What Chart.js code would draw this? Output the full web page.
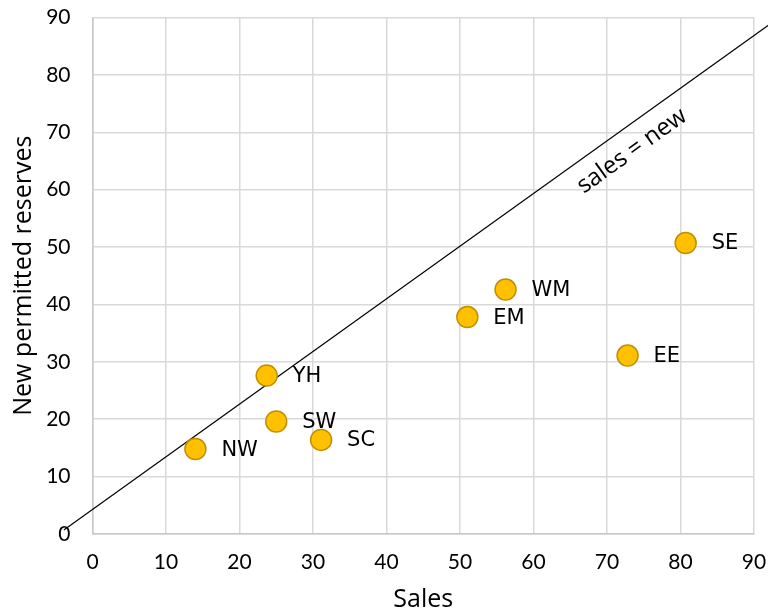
<!DOCTYPE html>
<html>
<head>
<meta charset="utf-8">
<script src="https://cdn.jsdelivr.net/npm/chart.js@4"></script>
<style>
html,body{margin:0;padding:0;background:#fff;}
#wrap{width:768px;height:612px;position:relative;}
</style>
</head>
<body>
<div id="wrap"><canvas id="c" width="768" height="612"></canvas></div>
<script>
const regions = ["NW","YH","SW","SC","EM","WM","EE","SE"];
const sales = [14.0, 23.7, 25.0, 31.1, 51.0, 56.2, 72.8, 80.7];
const newReserves = [14.8, 27.6, 19.6, 16.4, 37.8, 42.6, 31.1, 50.7];
const refLineX = [-3.9, 92];
const refLineY = [0.7, 88.7];
const xTicks = [0,10,20,30,40,50,60,70,80,90];
const yTicks = [0,10,20,30,40,50,60,70,80,90];

const tickFont = {family:"Lato", size:21, lineHeight:1};
const textFont = "Open Sans";

const labelPlugin = {
  id:'labels',
  afterDatasetsDraw(chart){
    const ctx = chart.ctx;
    const meta = chart.getDatasetMeta(1);
    ctx.save();
    ctx.fillStyle = '#000';
    ctx.font = '21px "DejaVu Sans"';
    ctx.textAlign = 'left';
    ctx.textBaseline = 'middle';
    meta.data.forEach((pt, i) => {
      ctx.fillText(regions[i], pt.x + 26, pt.y + 1);
    });
    const xs = chart.scales.x, ys = chart.scales.y;
    const p0x = xs.getPixelForValue(refLineX[0]), p0y = ys.getPixelForValue(refLineY[0]);
    const p1x = xs.getPixelForValue(refLineX[1]), p1y = ys.getPixelForValue(refLineY[1]);
    const ang = Math.atan2(p1y - p0y, p1x - p0x);
    ctx.translate(632, 151);
    ctx.rotate(ang);
    ctx.textAlign = 'center';
    ctx.font = '24px "' + textFont + '"';
    ctx.fillText('sales = new', 0, 0);
    ctx.restore();
  }
};

new Chart(document.getElementById('c'), {
  type: 'scatter',
  data: {
    datasets: [
      {
        type:'line',
        data: refLineX.map((x,i)=>({x:x, y:refLineY[i]})),
        borderColor:'#000',
        borderWidth:1.2,
        pointRadius:0,
        fill:false,
        clip:false,
        order:2
      },
      {
        data: sales.map((x,i)=>({x:x, y:newReserves[i]})),
        backgroundColor:'#FFC000',
        borderColor:'#C09000',
        borderWidth:1.5,
        pointRadius:10.5,
        pointHoverRadius:10.5,
        order:1
      }
    ]
  },
  options: {
    responsive:false,
    animation:false,
    events:[],
    layout:{padding:{top:17.5, right:14, left:0, bottom:0}},
    plugins:{legend:{display:false}, tooltip:{enabled:false}},
    scales:{
      x:{
        type:'linear', min:0, max:90,
        afterBuildTicks(s){ s.ticks = xTicks.map(v=>({value:v})); },
        grid:{color:'#d9d9d9', lineWidth:1.5, drawTicks:false},
        border:{color:'#c8c8c8', width:1.5},
        ticks:{color:'#000', font:tickFont, padding:18, maxRotation:0},
        title:{display:true, text:'Sales', color:'#000', font:{family:textFont, size:25, lineHeight:1}, padding:{top:5,bottom:0}},
        afterFit(s){ s.height = 78; s.paddingLeft = 0; s.paddingRight = 0; }
      },
      y:{
        type:'linear', min:0, max:90,
        afterBuildTicks(s){ s.ticks = yTicks.map(v=>({value:v})); },
        grid:{color:'#d9d9d9', lineWidth:1.5, drawTicks:false},
        border:{color:'#c8c8c8', width:1.5},
        ticks:{color:'#000', font:tickFont, padding:22},
        title:{display:true, text:'New permitted reserves', color:'#000', font:{family:textFont, size:25}, padding:{top:9,bottom:0}},
        afterFit(s){ s.width = 92.5; s.paddingTop = 0; s.paddingBottom = 0; }
      }
    }
  },
  plugins:[labelPlugin]
});
</script>
</body>
</html>
